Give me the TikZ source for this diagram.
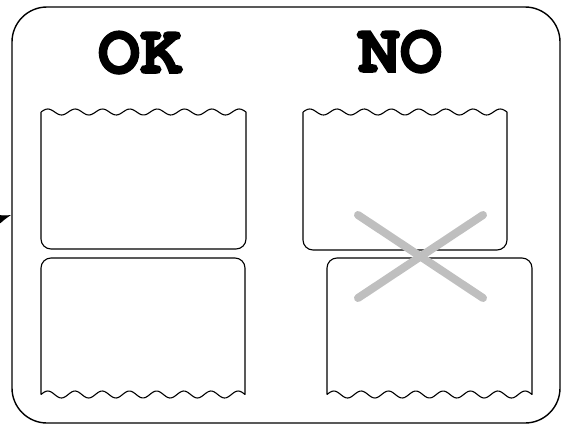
\documentclass[tikz,border=0pt]{standalone}
\usepackage[T1,TU]{fontenc}
\usetikzlibrary{arrows.meta}
\newcommand\signfont{\fontencoding{T1}\fontfamily{pcr}\fontseries{b}\selectfont}
\newcommand\heavy[1]{\special{pdf:literal direct 2 Tr 1.6 w}#1\special{pdf:literal direct 0 Tr}}

\begin{document}
\begin{tikzpicture}[
  x=1pt, y=-1pt,
  panel/.style={draw, line width=1.4pt, rounded corners=35pt,
                minimum width=548pt, minimum height=416pt},
  sheet/.style={draw, line width=1.1pt, line join=round},
  title/.style={font=\signfont\fontsize{70}{70}\selectfont, anchor=base},
  cross/.style={draw=black!25, line width=8pt, line cap=round},
  feedline/.style={draw, line width=1.2pt, -{Latex[length=13pt,width=9pt]}}
]
\useasboundingbox (0,0) rectangle (565,426);
\node[panel] (panel) at (286,215) {};
\coordinate (feed) at (-40,232);
\draw[feedline] (feed) -- (panel.west);

\node[title] (ok) at (140,73) {\heavy{OK}};
\node[title] (no) at (400,72) {\heavy{NO}};

% good case: torn edges outside
\draw[sheet] plot[domain=0:205, samples=120] ({41+\x}, {112-3*sin(\x/205*2700)})
  [rounded corners=10pt] -- (246,249) -- (41,249) -- (41,112);
\draw[sheet] plot[domain=0:204, samples=120] ({41+\x}, {394.5-3.5*sin(\x/204*2700)})
  [rounded corners=10pt] -- (245,258) -- (41,258) -- (41,394.5);

% bad case: shifted sheets
\draw[sheet] plot[domain=0:204, samples=120] ({303+\x}, {112-3*sin(\x/204*2700)})
  [rounded corners=10pt] -- (507,250) -- (303,250) -- (303,112);
\draw[sheet] plot[domain=0:205, samples=120] ({327+\x}, {394.5-3.5*sin(\x/205*2700)})
  [rounded corners=10pt] -- (532,258) -- (327,258) -- (327,394.5);

\draw[cross] (358,215) -- (483,298);
\draw[cross] (483,215) -- (358,298);
\end{tikzpicture}
\end{document}
